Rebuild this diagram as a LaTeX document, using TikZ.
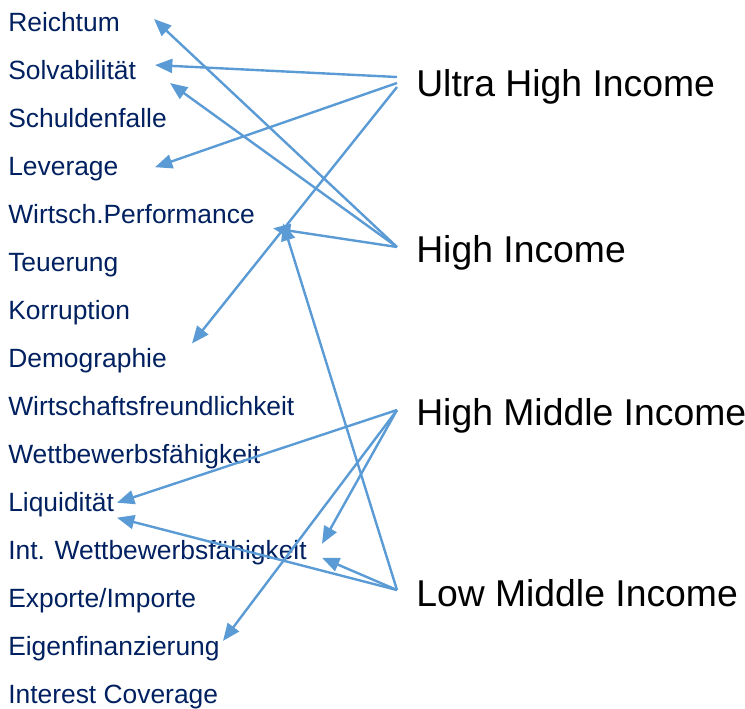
\documentclass[tikz,border=0pt]{standalone}
\usepackage{fontspec}
\setmainfont{Liberation Sans}
\usetikzlibrary{arrows.meta}
\definecolor{navy}{HTML}{002060}
\definecolor{arrblue}{HTML}{5B9BD5}
\tikzset{
  lbl/.style={anchor=base west,inner sep=0,text=navy,font=\fontsize{19.8}{23}\selectfont},
  grp/.style={anchor=base west,inner sep=0,text=black,font=\fontsize{28}{33}\selectfont},
  arr/.style={arrblue,line width=1.8pt,-{Triangle[length=13pt,width=10.5pt]}}
}
\begin{document}
\begin{tikzpicture}[x=0.75pt,y=-0.75pt]
\useasboundingbox (0,0) rectangle (745,708);
\foreach \t [count=\i] in {Reichtum,Solvabilität,Schuldenfalle,Leverage,Wirtsch.Performance,Teuerung,Korruption,Demographie,Wirtschaftsfreundlichkeit,Wettbewerbsfähigkeit,Liquidität,Int. Wettbewerbsfähigkeit,Exporte/Importe,Eigenfinanzierung,Interest Coverage}
\node[lbl] (l\i) at (8,{31+48.07*(\i-1)}) {\t};
\node[grp] (ultra) at (416,96) {Ultra High Income};
\node[grp] (high) at (416,262) {High Income};
\node[grp] (hmid) at (416,425) {High Middle Income};
\node[grp] (lmid) at (416,606) {Low Middle Income};
\draw[arr] ([shift={(-19,-19)}]ultra.base west) -- ([shift={(147,-14)}]l2.base west);
\draw[arr] ([shift={(-19,-13)}]ultra.base west) -- ([shift={(147,-8)}]l4.base west);
\draw[arr] ([shift={(-19,-9)}]ultra.base west) -- ([shift={(184,-24)}]l8.base west);
\draw[arr] ([shift={(-19,-15)}]high.base west) -- ([shift={(146,-12)}]l1.base west);
\draw[arr] ([shift={(-19,-15)}]high.base west) -- ([shift={(162,4)}]l2.base west);
\draw[arr] ([shift={(-19,-15)}]high.base west) -- ([shift={(265,5)}]l5.base west);
\draw[arr] ([shift={(-19,-15)}]hmid.base west) -- ([shift={(109,-9)}]l11.base west);
\draw[arr] ([shift={(-19,-15)}]hmid.base west) -- ([shift={(314,-16)}]l12.base west);
\draw[arr] ([shift={(-19,-15)}]hmid.base west) -- ([shift={(215,-15)}]l14.base west);
\draw[arr] ([shift={(-19,-16)}]lmid.base west) -- ([shift={(109,6)}]l11.base west);
\draw[arr] ([shift={(-19,-16)}]lmid.base west) -- ([shift={(314,-2)}]l12.base west);
\draw[arr] ([shift={(-19,-16)}]lmid.base west) -- ([shift={(275,0)}]l5.base west);
\end{tikzpicture}
\end{document}
